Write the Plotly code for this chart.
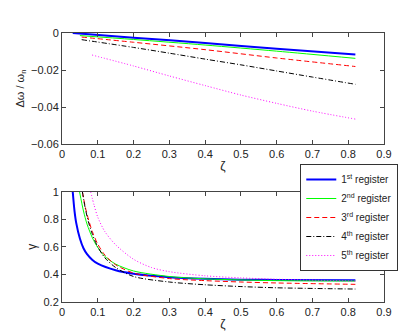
import plotly.graph_objects as go

names = ["1<sup>st</sup> register", "2<sup>nd</sup> register", "3<sup>rd</sup> register",
         "4<sup>th</sup> register", "5<sup>th</sup> register"]

# top panel: delta omega / omega_n vs zeta
zeta_top = [
    [0.03, 0.2, 0.4, 0.6, 0.82],
    [0.05, 0.2, 0.4, 0.6, 0.82],
    [0.055, 0.2, 0.4, 0.6, 0.82],
    [0.055, 0.2, 0.3, 0.4, 0.5, 0.6, 0.7, 0.82],
    [0.084, 0.2, 0.3, 0.4, 0.5, 0.6, 0.7, 0.82],
]
dw_top = [
    [0.0, -0.0025, -0.0054, -0.0085, -0.0116],
    [-0.0014, -0.0035, -0.0065, -0.0098, -0.0137],
    [-0.0022, -0.0050, -0.0090, -0.0135, -0.0181],
    [-0.0036, -0.0078, -0.0109, -0.0141, -0.0172, -0.0205, -0.0238, -0.0277],
    [-0.0119, -0.0178, -0.0232, -0.0284, -0.0335, -0.0380, -0.0422, -0.0465],
]

# bottom panel: gamma vs zeta
zeta_bot = [
    [0.03, 0.035, 0.04, 0.05, 0.06, 0.07, 0.085, 0.1, 0.15, 0.2, 0.3, 0.4, 0.5, 0.6, 0.82],
    [0.049, 0.06, 0.07, 0.085, 0.1, 0.12, 0.15, 0.2, 0.3, 0.4, 0.5, 0.6, 0.82],
    [0.057, 0.065, 0.075, 0.085, 0.1, 0.12, 0.15, 0.2, 0.3, 0.4, 0.5, 0.6, 0.82],
    [0.057, 0.065, 0.075, 0.085, 0.1, 0.12, 0.15, 0.2, 0.3, 0.4, 0.5, 0.6, 0.82],
    [0.08, 0.09, 0.1, 0.12, 0.15, 0.2, 0.25, 0.3, 0.4, 0.5, 0.6, 0.82],
]
gamma_bot = [
    [1.0, 0.86, 0.77, 0.66, 0.59, 0.547, 0.505, 0.478, 0.43, 0.405, 0.38, 0.368, 0.362, 0.36, 0.357],
    [1.0, 0.86, 0.765, 0.665, 0.595, 0.53, 0.475, 0.425, 0.385, 0.368, 0.36, 0.355, 0.352],
    [1.0, 0.89, 0.79, 0.71, 0.62, 0.54, 0.47, 0.41, 0.37, 0.355, 0.345, 0.338, 0.328],
    [1.0, 0.88, 0.77, 0.69, 0.60, 0.52, 0.45, 0.385, 0.345, 0.325, 0.312, 0.303, 0.294],
    [1.0, 0.90, 0.815, 0.71, 0.615, 0.51, 0.45, 0.42, 0.39, 0.375, 0.365, 0.352],
]

colors = ["#0000ff", "#00ff00", "#ff0000", "#000000", "#ff00ff"]
dashes = ["solid", "solid", "5px,3px", "5px,2px,1px,2px", "1px,2px"]
widths = [2, 1, 1, 1, 1]

fig = go.Figure()
for i in range(5):
    line = dict(color=colors[i], dash=dashes[i], width=widths[i], shape="spline", smoothing=0.8)
    fig.add_trace(go.Scatter(x=zeta_top[i], y=dw_top[i], mode="lines", line=line,
                             showlegend=False, xaxis="x", yaxis="y"))
    fig.add_trace(go.Scatter(x=zeta_bot[i], y=gamma_bot[i], mode="lines", line=line,
                             name=names[i], xaxis="x2", yaxis="y2"))

ax = dict(showgrid=False, zeroline=False, showline=True, linecolor="#444", linewidth=1,
          mirror="ticks", ticks="inside", ticklen=4, tickcolor="#444",
          tickfont=dict(size=11, color="#222"))
xticks = dict(range=[0, 0.9], tickvals=[0, 0.1, 0.2, 0.3, 0.4, 0.5, 0.6, 0.7, 0.8, 0.9])

fig.update_layout(
    width=415, height=334,
    paper_bgcolor="white", plot_bgcolor="white",
    font=dict(family="Liberation Sans, Arial", size=11, color="#222"),
    margin=dict(l=54, r=39, t=25, b=40),
    xaxis=dict(**ax, **xticks, domain=[0, 1], anchor="y",
               title=dict(text="ζ", standoff=2, font=dict(size=12))),
    yaxis=dict(**ax, range=[-0.06, 0], tickvals=[0, -0.02, -0.04, -0.06],
               ticktext=["0", "−0.02", "−0.04", "−0.06"], domain=[0.587, 1], anchor="x",
               title=dict(text="Δω / ω<sub>n</sub>", standoff=4, font=dict(size=11))),
    xaxis2=dict(**ax, **xticks, domain=[0, 1], anchor="y2",
                title=dict(text="ζ", standoff=2, font=dict(size=12))),
    yaxis2=dict(**ax, range=[0.2, 1], tickvals=[0.2, 0.4, 0.6, 0.8, 1],
                ticktext=["0.2", "0.4", "0.6", "0.8", "1"], domain=[0, 0.41], anchor="x2",
                title=dict(text="γ", standoff=4, font=dict(size=12))),
    legend=dict(x=0.74, y=0.513, xanchor="left", yanchor="top",
                bgcolor="white", bordercolor="#333", borderwidth=1,
                font=dict(size=10, color="#222"), tracegroupgap=0,
                itemwidth=30),
)

fig.write_html("out.html")
